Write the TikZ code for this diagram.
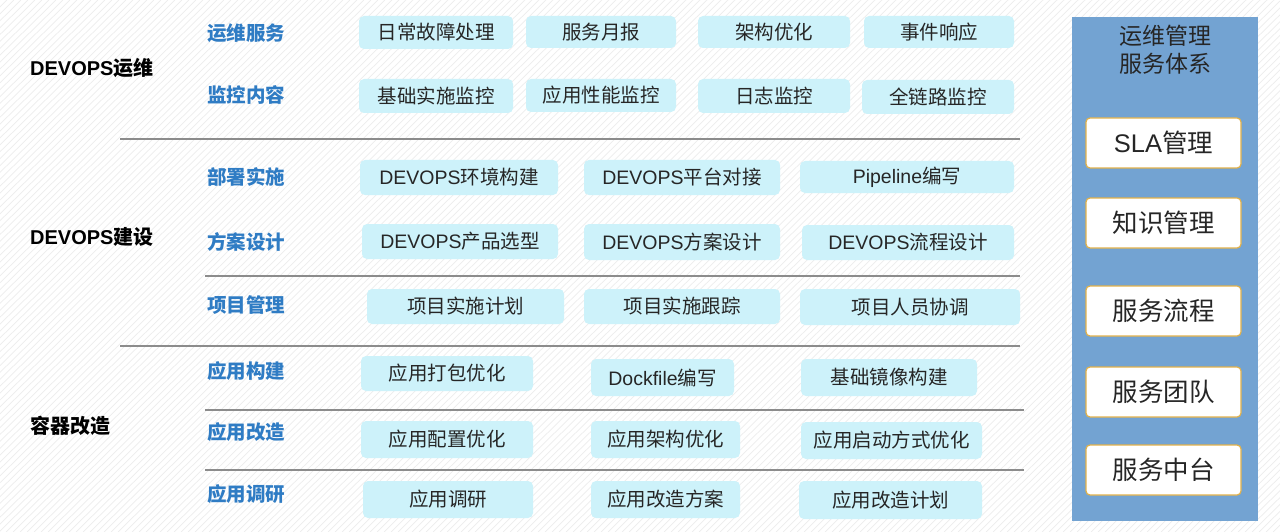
\documentclass[tikz,border=0pt]{standalone}
\usepackage{fontspec}
\setmainfont{Noto Sans CJK SC}
\newfontfamily\lat{Liberation Sans}
\definecolor{boxc}{HTML}{CDF2FA}
\definecolor{bluet}{HTML}{2F7CC4}
\definecolor{panel}{HTML}{73A3D2}
\definecolor{gold}{HTML}{E2B24A}
\definecolor{sep}{HTML}{8C8C8C}
\definecolor{hatch}{HTML}{EDEDED}
\newcommand{\cbx}[6]{\node[cbox,minimum width={(#3-#2)*1pt},minimum height={(#5-#4)*1pt}] (#1) at ({(#2+#3)/2},{(#4+#5)/2}) {#6};}
\newcommand{\wbx}[4]{\node[wbox] (#1) at (1163.5,{(#2+#3)/2}) {#4};}
\begin{document}
\begin{tikzpicture}[x=1pt,y=-1pt,
  cbox/.style={rounded corners=5pt,fill=boxc,inner sep=0pt,font=\fontsize{19.5}{21}\selectfont,text=black!85},
  blab/.style={anchor=west,inner sep=0pt,text=bluet,font=\fontsize{19.5}{21}\selectfont\bfseries},
  klab/.style={anchor=west,inner sep=0pt,text=black,font=\fontsize{20}{22}\selectfont\bfseries},
  wbox/.style={draw=gold,line width=1.2pt,fill=white,rounded corners=4pt,minimum width=155pt,minimum height=50pt,inner sep=0pt,font=\fontsize{25.5}{27}\selectfont,text=black!85},
  sepl/.style={draw=sep,line width=1.3pt}]
\useasboundingbox (0,0) rectangle (1280,532);
\fill[white] (0,0) rectangle (1280,532);
\begin{scope}
\clip (0,0) rectangle (1280,532);
\foreach \i in {0,7,...,1820} {\draw[hatch,line width=0.7pt] (\i-540,532) -- (\i,0);}
\end{scope}
% left labels
\node[klab] (l1) at (30,68) {{\lat DEVOPS}运维};
\node[klab] (l2) at (30,237) {{\lat DEVOPS}建设};
\node[klab] (l3) at (30,426) {容器改造};
% blue labels
\node[blab] (b1) at (207,33) {运维服务};
\node[blab] (b2) at (207,95) {监控内容};
\node[blab] (b3) at (207,177) {部署实施};
\node[blab] (b4) at (207,242) {方案设计};
\node[blab] (b5) at (207,305) {项目管理};
\node[blab] (b6) at (207,371) {应用构建};
\node[blab] (b7) at (207,432) {应用改造};
\node[blab] (b8) at (207,494) {应用调研};
% separators
\draw[sepl] (120,139) -- (1020,139);
\draw[sepl] (205,276) -- (1020,276);
\draw[sepl] (120,346) -- (1020,346);
\draw[sepl] (205,410) -- (1024,410);
\draw[sepl] (205,470) -- (1024,470);
% row 1
\cbx{r1a}{359}{513}{16}{49}{日常故障处理}
\cbx{r1b}{526}{676}{16}{48}{服务月报}
\cbx{r1c}{698}{850}{16}{48}{架构优化}
\cbx{r1d}{864}{1014}{16}{48}{事件响应}
% row 2
\cbx{r2a}{359}{513}{79}{113}{基础实施监控}
\cbx{r2b}{526}{676}{79}{112}{应用性能监控}
\cbx{r2c}{698}{850}{79}{113}{日志监控}
\cbx{r2d}{862}{1014}{80}{114}{全链路监控}
% row 3
\cbx{r3a}{360}{558}{160}{195}{{\lat DEVOPS}环境构建}
\cbx{r3b}{584}{780}{160}{195}{{\lat DEVOPS}平台对接}
\cbx{r3c}{800}{1014}{161}{193}{{\lat Pipeline}编写}
% row 4
\cbx{r4a}{362}{558}{224}{259}{{\lat DEVOPS}产品选型}
\cbx{r4b}{584}{780}{224}{260}{{\lat DEVOPS}方案设计}
\cbx{r4c}{802}{1014}{225}{260}{{\lat DEVOPS}流程设计}
% row 5
\cbx{r5a}{367}{564}{289}{324}{项目实施计划}
\cbx{r5b}{584}{780}{289}{324}{项目实施跟踪}
\cbx{r5c}{800}{1020}{289}{325}{项目人员协调}
% row 6
\cbx{r6a}{361}{533}{356}{391}{应用打包优化}
\cbx{r6b}{591}{734}{359}{396}{{\lat Dockfile}编写}
\cbx{r6c}{801}{977}{359}{396}{基础镜像构建}
% row 7
\cbx{r7a}{361}{533}{421}{458}{应用配置优化}
\cbx{r7b}{591}{740}{421}{458}{应用架构优化}
\cbx{r7c}{801}{982}{422}{459}{应用启动方式优化}
% row 8
\cbx{r8a}{363}{533}{481}{518}{应用调研}
\cbx{r8b}{591}{740}{481}{518}{应用改造方案}
\cbx{r8c}{799}{982}{481}{519}{应用改造计划}
% right panel
\fill[panel] (1072,17) rectangle (1258,521);
\node[align=center,inner sep=0pt,font=\fontsize{23}{28}\selectfont,text=black!85] (pt) at (1165,50) {运维管理\\服务体系};
\wbx{w1}{118}{168}{{\lat SLA}管理}
\wbx{w2}{198}{248}{知识管理}
\wbx{w3}{286}{336}{服务流程}
\wbx{w4}{367}{417}{服务团队}
\wbx{w5}{445}{495}{服务中台}
\end{tikzpicture}
\end{document}
